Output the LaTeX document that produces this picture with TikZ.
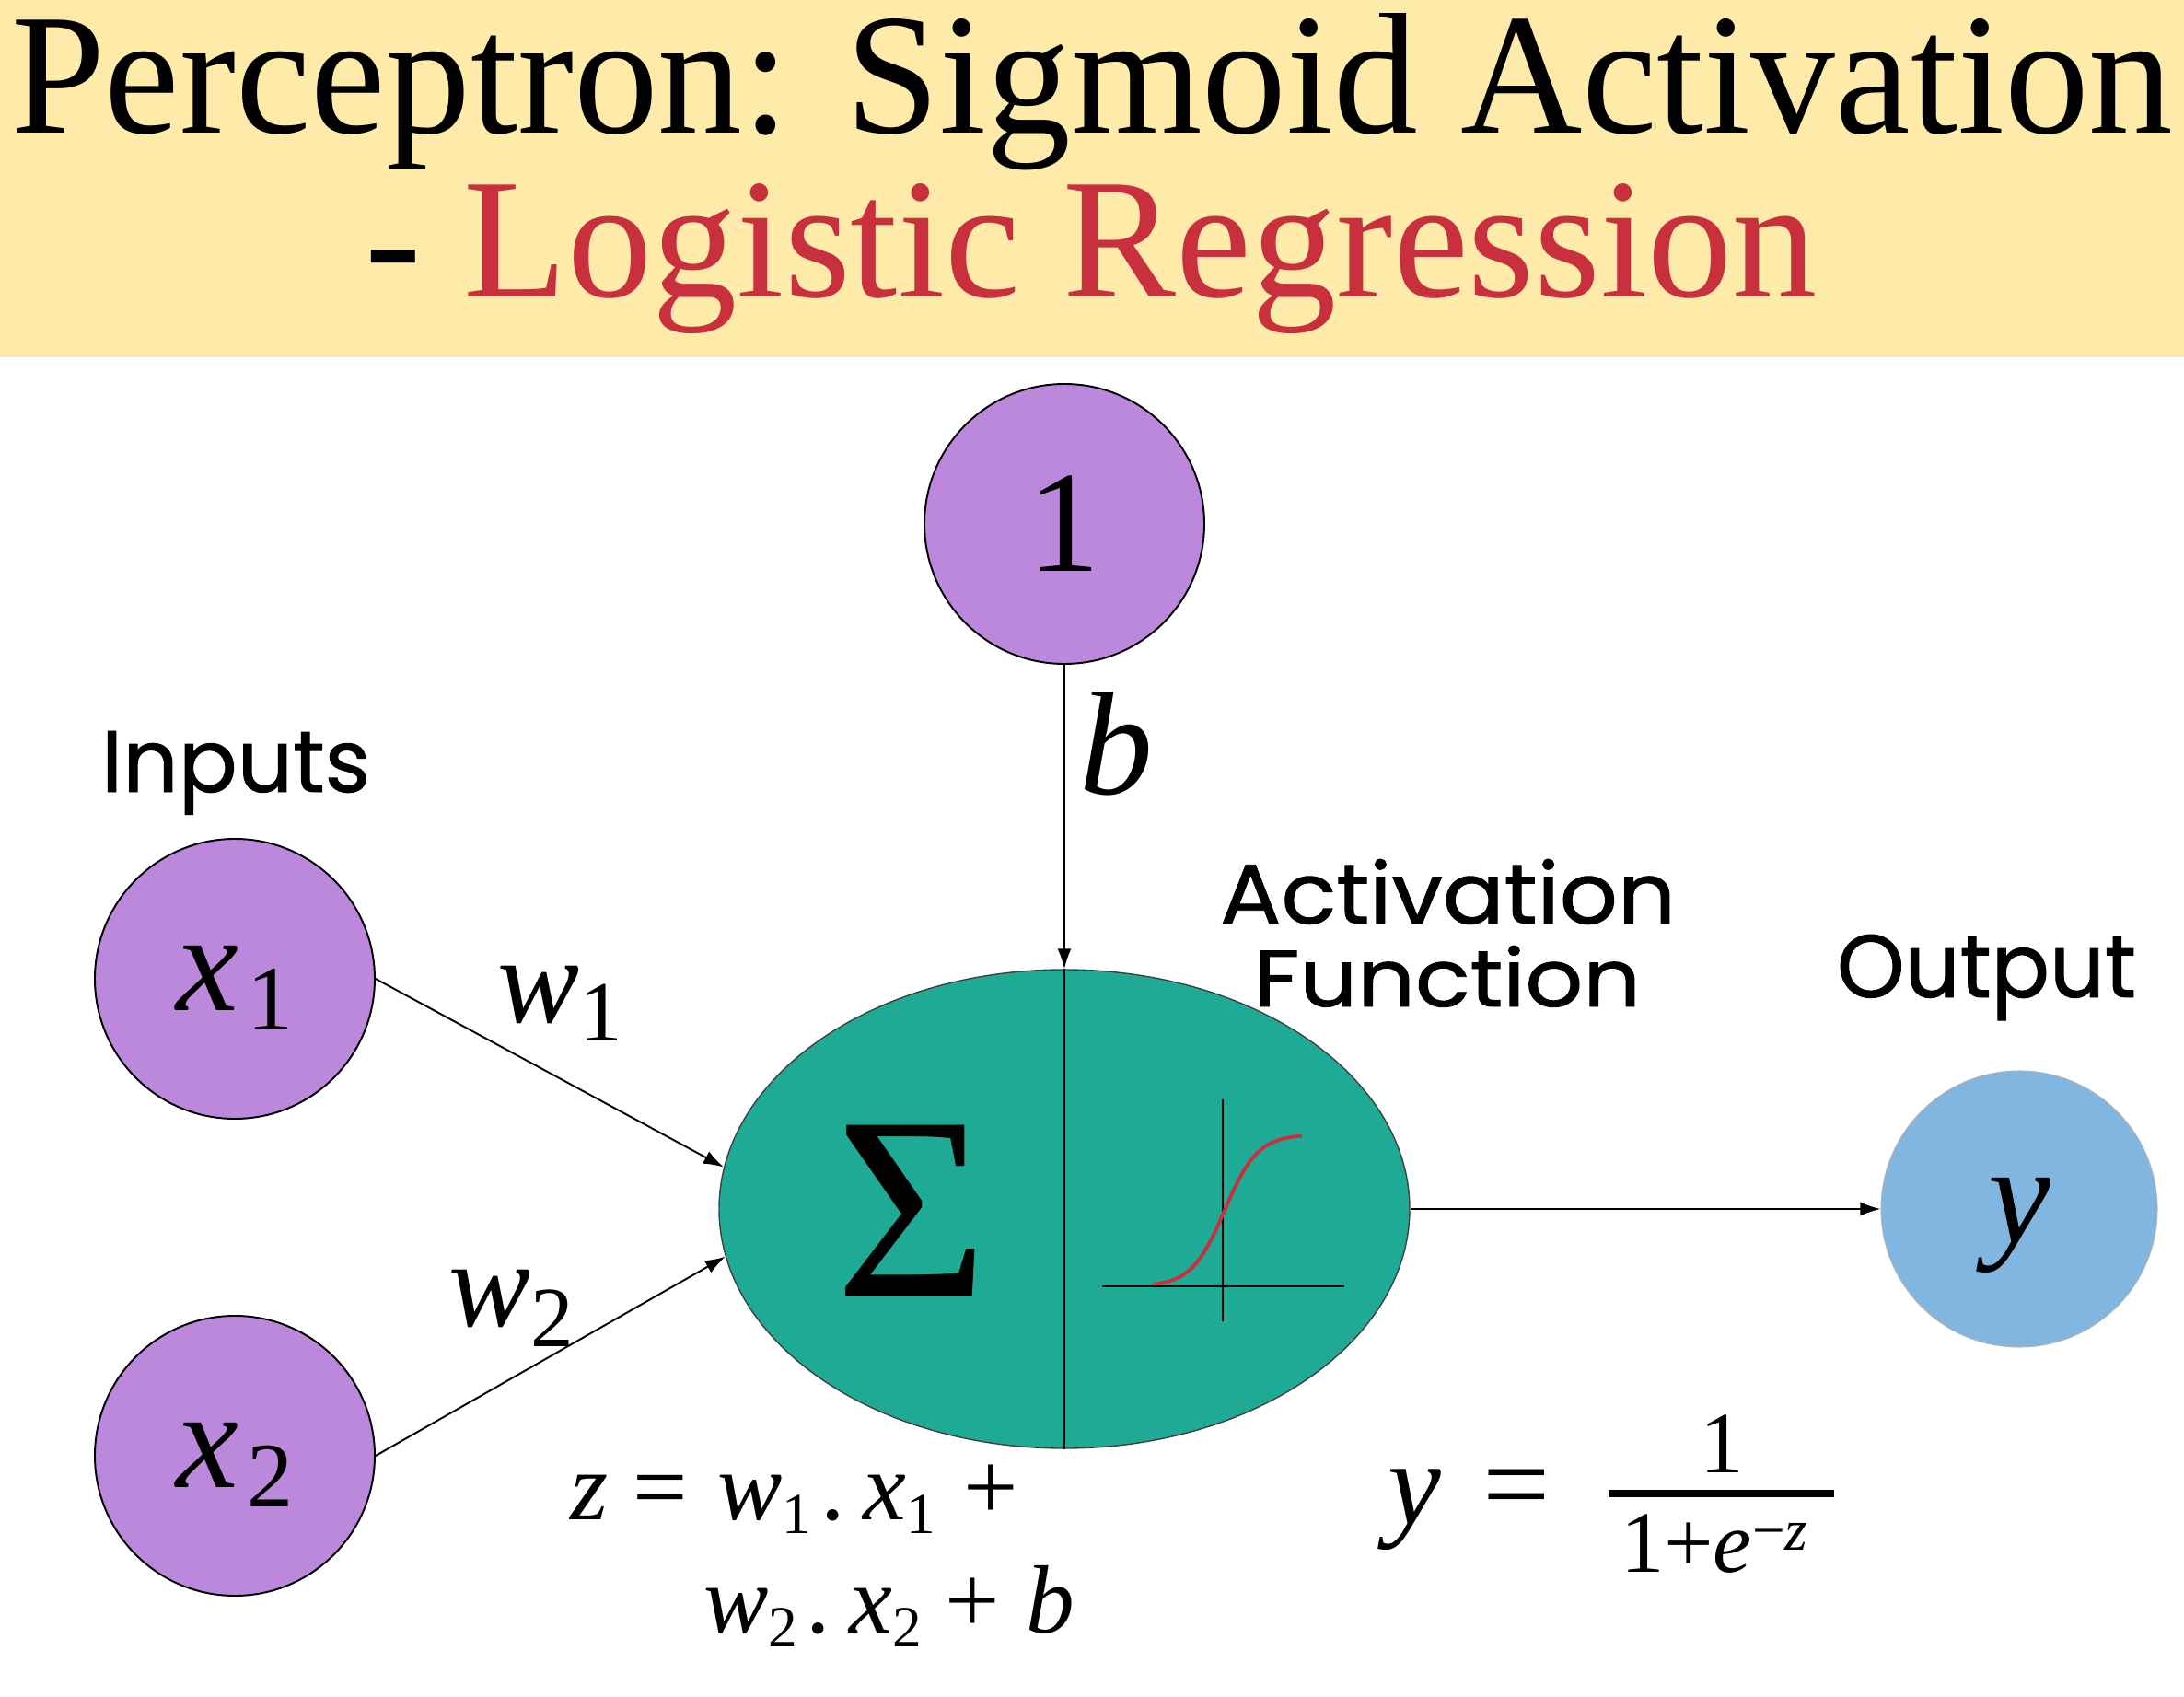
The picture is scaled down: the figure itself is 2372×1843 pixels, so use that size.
\documentclass[tikz,border=0pt]{standalone}
\usepackage{fontspec}
\setmainfont{Liberation Serif}
\newfontfamily\lblfont{Poppins}[FakeBold=1]
\usepackage{graphicx}
\usetikzlibrary{shapes.geometric,arrows.meta}
\newlength\pxu \setlength\pxu{0.1mm}
\definecolor{band}{HTML}{FEEBAA}
\definecolor{lred}{HTML}{C8303E}
\definecolor{purp}{HTML}{BB88DB}
\definecolor{teal1}{HTML}{1FAA96}
\definecolor{bluey}{HTML}{80B6E0}
\newcommand\fsz[1]{\fontsize{#1}{#1}\selectfont}
\newcommand\lowr[3]{\raisebox{-#1\pxu}{\fsz{#2}\upshape #3}}
\begin{document}
\begin{tikzpicture}[x=0.1mm,y=-0.1mm,
  neuron/.style={circle, draw=black, line width=0.55pt, fill=purp, minimum size=30.4mm, inner sep=0pt},
  outneuron/.style={circle, draw=black!30, line width=0.3pt, fill=bluey, minimum size=30mm, inner sep=0pt},
  sumnode/.style={ellipse, draw=black!75, line width=0.4pt, fill=teal1, minimum width=75mm, minimum height=52mm, inner sep=0pt},
  conn/.style={line width=0.55pt, -{Latex[length=2.2mm,width=1.5mm]}},
  txt/.style={inner sep=0pt, outer sep=0pt},
  lbl/.style={txt, anchor=base west, font=\lblfont},
]
\useasboundingbox (0,0) rectangle (2372,1843);
\fill[band] (0,0) rectangle (2372,388);
% title
\node[txt, anchor=base west] (title1) at (12,145) {\resizebox{2348\pxu}{130\pxu}{\fsz{50pt}Perceptron: Sigmoid Activation}};
\node[txt, anchor=base west] (title2) at (396,323) {\resizebox{1578\pxu}{123\pxu}{\fsz{50pt}- \textcolor{lred}{Logistic Regression}}};
% nodes
\node[neuron] (one) at (1156,569) {\fsz{44.7pt}1};
\node[neuron] (x1) at (255,1063) {\smash{\raisebox{-34\pxu}{\fsz{43.5pt}\itshape x\hspace{10\pxu}\lowr{21}{28.5pt}{1}}}};
\node[neuron] (x2) at (255,1581) {\smash{\raisebox{-34\pxu}{\fsz{43.5pt}\itshape x\hspace{10\pxu}\lowr{21}{28.5pt}{2}}}};
\node[sumnode] (sum) at (1156,1313) {};
\node[outneuron] (out) at (2193,1313) {\smash{\raisebox{-36\pxu}{\fsz{43.5pt}\itshape y}}};
% divider in the neuron
\draw[line width=0.4pt] (sum.north) -- (sum.south);
\node[txt] (sigma) at (990,1315) {\fsz{81pt}Σ};
% sigmoid sketch
\draw[line width=0.75pt] (1197,1397) -- (1460,1397);
\draw[line width=0.75pt] (1328,1194) -- (1328,1435);
\draw[lred, line width=1.1pt, line cap=round] plot[domain=1253:1413, samples=60, smooth] (\x, {1397 - 165/(1+exp(-(\x-1330)/18))});
% connectors
\draw[conn] (x1.east) -- (sum.173);
\draw[conn] (x2.east) -- (sum.188);
\draw[conn] (one.south) -- (sum.north);
\draw[conn] (sum.east) -- (out.west);
% edge labels
\node[txt, anchor=base west] (w1lbl) at (540,1110) {\fsz{38pt}\itshape w\lowr{20}{26.5pt}{1}};
\node[txt, anchor=base west] (w2lbl) at (487,1440) {\fsz{38pt}\itshape w\lowr{22}{26.5pt}{2}};
\node[txt, anchor=base west] (blbl) at (1172,862) {\fsz{45.5pt}\itshape b};
% section labels
\node[lbl] (inputs) at (110,860) {\resizebox{292\pxu}{66\pxu}{Inputs}};
\node[lbl] (act1) at (1325,1003) {\resizebox{495\pxu}{70\pxu}{Activation}};
\node[lbl] (act2) at (1362,1093) {\resizebox{420\pxu}{66\pxu}{Function}};
\node[lbl] (outlbl) at (1995,1083) {\resizebox{325\pxu}{68\pxu}{Output}};
% formulas
\node[txt, anchor=base west] (zeq1) at (619,1650) {\fsz{30pt}\itshape z\hspace{27\pxu}\upshape=\hspace{33\pxu}\itshape w\lowr{15}{18pt}{1}\hspace{10\pxu}\upshape.\hspace{20\pxu}\itshape x\lowr{15}{18pt}{1}\hspace{30\pxu}\upshape+};
\node[txt, anchor=base west] (zeq2) at (764,1773) {\fsz{30pt}\itshape w\lowr{15}{18pt}{2}\hspace{10\pxu}\upshape.\hspace{20\pxu}\itshape x\lowr{15}{18pt}{2}\hspace{26\pxu}\upshape+\hspace{28\pxu}\itshape b};
\node[txt, anchor=base west] (yeq) at (1507,1655) {\fsz{37pt}\itshape y\hspace{46\pxu}\upshape=};
\node[txt, anchor=base] (ynum) at (1870,1599) {\fsz{27pt}1};
\draw[line width=0.8mm] (1747,1622) -- (1992,1622);
\node[txt, anchor=base west] (yden) at (1760,1707) {\fsz{27pt}1+\itshape e\upshape\raisebox{24\pxu}{\fsz{18pt}−\itshape z}};
\end{tikzpicture}
\end{document}
